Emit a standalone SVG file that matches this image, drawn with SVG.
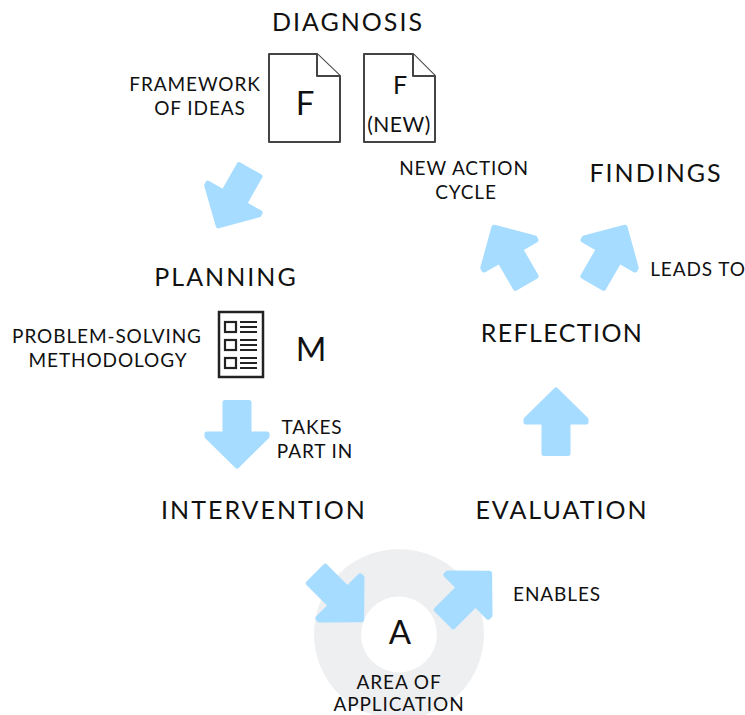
<svg xmlns="http://www.w3.org/2000/svg" width="745" height="715" viewBox="0 0 745 715">
<style>
text{font-family:"Lato","Open Sans",sans-serif;fill:#111;text-anchor:middle}
.h{font-size:25px;letter-spacing:2px}
.l{font-size:19px;letter-spacing:.9px}
.b{font-size:33px}
.a{fill:#a6dcff;stroke:#a6dcff;stroke-width:5;stroke-linejoin:round}
.d{fill:#fff;stroke:#444;stroke-width:2;stroke-linejoin:round}
.i{fill:none;stroke:#222;stroke-width:2.200}
</style>
<defs>
<polygon id="arrow" points="0,-32 30,-2.500 30,0 12,0 12,31.500 -12,31.500 -12,0 -30,0 -30,-2.500"/>
</defs>
<rect width="745" height="715" fill="#fff"/>
<g id="area">
<circle cx="399" cy="634" r="85" fill="#eeeff1"/>
<circle cx="399" cy="634.500" r="38" fill="#fff"/>
<text x="400" y="644" class="b">A</text>
<text x="399" y="689" class="l">AREA OF</text>
<text x="399" y="711" class="l">APPLICATION</text>
</g>
<g id="connectors">
<use href="#arrow" class="a" transform="translate(234,198) rotate(209.500)"/>
<use href="#arrow" class="a" transform="translate(237,434) rotate(180)"/>
<use href="#arrow" class="a" transform="translate(339,597) rotate(135)"/>
<use href="#arrow" class="a" transform="translate(467,596) rotate(45)"/>
<use href="#arrow" class="a" transform="translate(556,422)"/>
<use href="#arrow" class="a" transform="translate(510,255) rotate(-30)"/>
<use href="#arrow" class="a" transform="translate(609,255) rotate(30)"/>
</g>
<g id="diagnosis">
<text x="348" y="31" class="h">DIAGNOSIS</text>
<text x="195" y="91" class="l">FRAMEWORK</text>
<text x="200" y="115" class="l">OF IDEAS</text>
<path class="d" d="M269 54H317L340 76V142H269Z"/>
<path class="d" d="M317 54V76H340"/>
<text x="305" y="115" class="b">F</text>
<path class="d" d="M364 54H413L435 76V142H364Z"/>
<path class="d" d="M413 54V76H435"/>
<text x="400" y="94" style="font-size:25px">F</text>
<text x="399" y="132" style="font-size:21px;letter-spacing:.5px">(NEW)</text>
</g>
<g id="new-action"><text x="464" y="175" class="l">NEW ACTION</text><text x="466" y="199" class="l">CYCLE</text></g>
<g id="findings"><text x="656" y="182" class="h">FINDINGS</text></g>
<g id="leads-to"><text x="698" y="276" class="l">LEADS TO</text></g>
<g id="planning"><text x="226" y="286" class="h">PLANNING</text></g>
<g id="methodology">
<text x="107" y="343" class="l">PROBLEM-SOLVING</text>
<text x="108" y="367" class="l">METHODOLOGY</text>
<rect x="219" y="312" width="44" height="65" fill="#fff" stroke="#222" stroke-width="2.500"/>
<rect class="i" x="225" y="322" width="11" height="10"/>
<rect class="i" x="225" y="340" width="11" height="10"/>
<rect class="i" x="225" y="358" width="11" height="10"/>
<path class="i" d="M240 322H257M240 327H257M240 332H257M240 340H257M240 345H257M240 350H257M240 358H257M240 363H257M240 368H257"/>
<text x="311" y="361" class="b">M</text>
</g>
<g id="takes-part"><text x="312" y="434" class="l">TAKES</text><text x="315" y="458" class="l">PART IN</text></g>
<g id="intervention"><text x="264" y="519" class="h">INTERVENTION</text></g>
<g id="evaluation"><text x="562" y="519" class="h">EVALUATION</text></g>
<g id="reflection"><text x="562" y="342" class="h" style="letter-spacing:1.400px">REFLECTION</text></g>
<g id="enables"><text x="557" y="601" class="l">ENABLES</text></g>
</svg>
